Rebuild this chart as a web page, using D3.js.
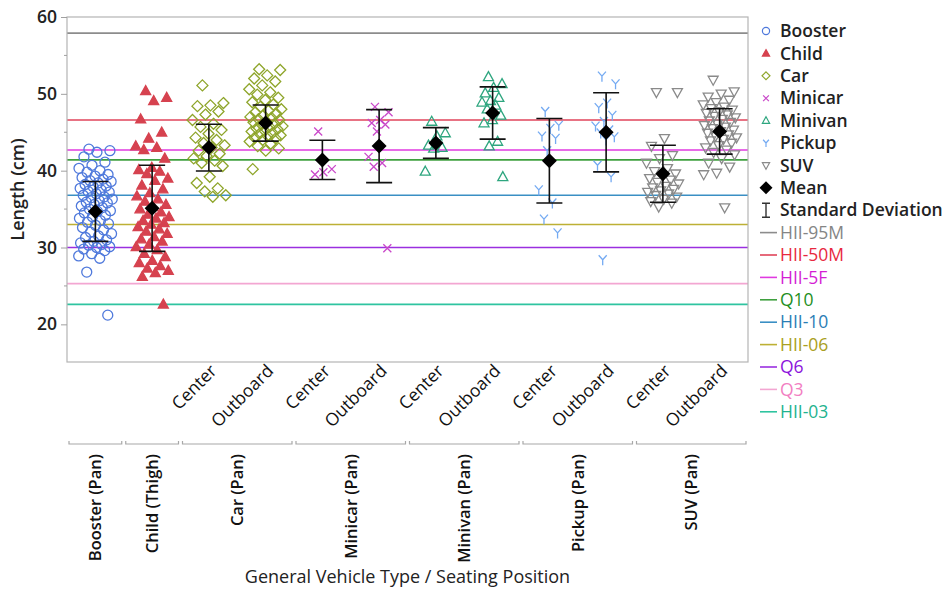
<!DOCTYPE html>
<html>
<head>
<meta charset="utf-8">
<script src="https://cdn.jsdelivr.net/npm/d3@7"></script>
<style>
  body { margin: 0; background: #fff; }
  text { font-family: 'Open Sans', 'Noto Sans', sans-serif; }
</style>
</head>
<body>
<div id="chart"></div>
<script>
// Columns on the x axis: vehicle group + seating position
const groups = ['Booster (Pan)', 'Child (Thigh)', 'Car (Pan)', 'Minicar (Pan)', 'Minivan (Pan)', 'Pickup (Pan)', 'SUV (Pan)'];
const positions = ['Center', 'Outboard'];

const boosterVals = [42.8, 42.6, 42.4, 41.8, 41.1, 40.7, 40.3, 40.0, 39.8, 39.5, 39.3, 39.1, 38.9, 38.7, 38.6, 38.4, 38.2, 38.0, 37.9, 37.7, 37.5, 37.3, 37.2, 37.0, 36.8, 36.6, 36.5, 36.3, 36.1, 35.9, 35.8, 35.6, 35.4, 35.2, 35.0, 34.8, 34.7, 34.5, 34.2, 34.0, 33.8, 33.5, 33.3, 33.1, 32.9, 32.6, 32.3, 32.0, 31.8, 31.5, 31.3, 31.0, 30.8, 30.6, 30.4, 30.3, 30.1, 30.0, 29.8, 29.6, 29.2, 28.9, 28.6, 26.8, 21.2];
const childVals = [50.4, 49.5, 49.1, 46.7, 45.0, 44.2, 43.2, 43.0, 42.7, 41.6, 40.4, 40.1, 39.9, 39.6, 39.0, 38.7, 38.1, 37.6, 37.1, 36.7, 36.3, 36.0, 35.6, 35.3, 35.0, 34.6, 34.3, 34.0, 33.8, 33.5, 33.2, 33.0, 32.7, 32.4, 32.1, 31.8, 31.4, 31.1, 30.8, 30.4, 30.1, 29.7, 29.2, 28.8, 28.3, 28.0, 27.6, 27.3, 27.0, 26.7, 26.2, 22.6];
const carCenterVals = [51.1, 48.8, 48.5, 48.4, 47.7, 47.3, 46.6, 46.1, 45.7, 45.3, 44.8, 44.3, 44.0, 43.6, 43.3, 43.0, 42.6, 42.2, 41.9, 41.6, 41.3, 41.0, 40.6, 39.2, 38.4, 37.7, 37.3, 36.8, 36.6];
const carOutboardVals = [53.2, 53.1, 52.4, 52.0, 51.6, 51.1, 50.6, 50.2, 49.9, 49.5, 49.2, 48.9, 48.6, 48.3, 48.0, 47.8, 47.6, 47.4, 47.2, 47.0, 46.9, 46.7, 46.6, 46.4, 46.3, 46.1, 46.0, 45.8, 45.7, 45.5, 45.4, 45.2, 45.1, 44.9, 44.8, 44.6, 44.5, 44.3, 44.2, 44.0, 43.8, 43.5, 43.2, 42.9, 42.6, 40.2];
const minicarCenterVals = [45.1, 40.2, 39.8, 39.5];
const minicarOutboardVals = [48.3, 47.6, 46.6, 46.2, 46.0, 45.1, 41.8, 41.0, 40.5, 29.9];
const minivanCenterVals = [46.4, 44.9, 44.5, 43.3, 43.0, 42.9, 39.9];
const minivanOutboardVals = [52.2, 51.3, 50.8, 50.1, 49.5, 49.1, 48.9, 48.5, 48.0, 47.2, 46.6, 46.2, 43.8, 43.2, 39.2];
const pickupCenterVals = [47.7, 45.9, 45.5, 44.5, 44.2, 42.6, 37.5, 35.8, 33.7, 31.9];
const pickupOutboardVals = [52.3, 51.3, 48.8, 48.2, 47.2, 46.4, 45.8, 45.3, 44.9, 44.4, 44.0, 40.7, 39.2, 28.4];
const suvCenterVals = [50.2, 50.2, 44.2, 43.2, 42.0, 41.6, 41.0, 40.3, 39.9, 39.6, 39.3, 39.0, 38.8, 38.5, 38.3, 38.0, 37.8, 37.6, 37.4, 37.2, 37.0, 36.8, 36.6, 36.3, 36.0, 35.8, 35.3];
const suvOutboardVals = [51.8, 50.3, 50.0, 49.6, 49.2, 48.9, 48.6, 48.3, 48.1, 47.9, 47.7, 47.5, 47.3, 47.1, 46.9, 46.7, 46.5, 46.3, 46.1, 45.9, 45.7, 45.5, 45.3, 45.1, 44.9, 44.7, 44.5, 44.3, 44.1, 43.9, 43.6, 43.3, 43.0, 42.7, 42.4, 42.1, 41.6, 41.0, 40.5, 39.7, 39.5, 35.2];

// Mean and standard deviation per column
const means = [34.7, 35.1, 43.0, 46.2, 41.4, 43.2, 43.6, 47.5, 41.3, 45.0, 39.6, 45.1];
const sds   = [3.9, 5.6, 3.05, 2.35, 2.55, 4.75, 2.0, 3.4, 5.5, 5.15, 3.7, 2.95];

// Reference lines
const refNames  = ['HII-95M', 'HII-50M', 'HII-5F', 'Q10', 'HII-10', 'HII-06', 'Q6', 'Q3', 'HII-03'];
const refValues = [57.9, 46.6, 42.7, 41.4, 36.8, 33.0, 30.0, 25.3, 22.6];
const refColors = ['#8c8c8c', '#e0455b', '#e03ae0', '#3fa03f', '#3a8fc4', '#bdb034', '#9a2fe0', '#f3a6d2', '#2fc4a0'];
const refText   = ['#858585', '#e8283f', '#d41ed4', '#1f8f1f', '#2a7db5', '#aaa022', '#8c14dc', '#f27fc2', '#1fb38f'];

const seriesNames = ['Booster', 'Child', 'Car', 'Minicar', 'Minivan', 'Pickup', 'SUV'];
const seriesColors = ['#4f79dc', '#d6424f', '#8ea52a', '#c947c9', '#2ea67f', '#74aaf2', '#8a8a8a'];

const yTicks = [20, 30, 40, 50, 60];
const yMinor = [25, 35, 45, 55];

// column table built from the arrays above
const cols = [
  { group: 0, pos: null, series: 0, vals: boosterVals },
  { group: 1, pos: null, series: 1, vals: childVals },
  { group: 2, pos: 0, series: 2, vals: carCenterVals },
  { group: 2, pos: 1, series: 2, vals: carOutboardVals },
  { group: 3, pos: 0, series: 3, vals: minicarCenterVals },
  { group: 3, pos: 1, series: 3, vals: minicarOutboardVals },
  { group: 4, pos: 0, series: 4, vals: minivanCenterVals },
  { group: 4, pos: 1, series: 4, vals: minivanOutboardVals },
  { group: 5, pos: 0, series: 5, vals: pickupCenterVals },
  { group: 5, pos: 1, series: 5, vals: pickupOutboardVals },
  { group: 6, pos: 0, series: 6, vals: suvCenterVals },
  { group: 6, pos: 1, series: 6, vals: suvOutboardVals },
];
cols.forEach((c, i) => { c.key = 'c' + i; c.mean = means[i]; c.sd = sds[i]; });

const W = 946, H = 590;
const M = { left: 67, right: 748, top: 17, bottom: 362 };
const FS = 17.5; // legend / label font size

const svg = d3.select('#chart').append('svg')
  .attr('width', W).attr('height', H)
  .style('display', 'block');

const x = d3.scaleBand().domain(cols.map(c => c.key)).range([M.left, M.right]).padding(0);
const y = d3.scaleLinear().domain([15.1, 60]).range([M.bottom, M.top]);

// marker shapes, s = half size
const shapes = [
  s => { const p = d3.path(); p.arc(0, 0, s, 0, 2 * Math.PI); return p.toString(); },
  s => `M0,${-s * 1.05}L${s},${s * 0.75}L${-s},${s * 0.75}Z`,
  s => `M0,${-s * 1.1}L${s * 1.1},0L0,${s * 1.1}L${-s * 1.1},0Z`,
  s => `M${-s * 0.8},${-s * 0.8}L${s * 0.8},${s * 0.8}M${s * 0.8},${-s * 0.8}L${-s * 0.8},${s * 0.8}`,
  s => `M0,${-s * 1.05}L${s},${s * 0.75}L${-s},${s * 0.75}Z`,
  s => `M0,0L${-s * 0.8},${-s * 0.9}M0,0L${s * 0.8},${-s * 0.9}M0,0L0,${s * 1.1}`,
  s => `M0,${s * 1.05}L${s},${-s * 0.75}L${-s},${-s * 0.75}Z`,
];
const filled = [false, true, false, false, false, false, false];

// reference lines
svg.append('g').selectAll('line').data(refValues).join('line')
  .attr('x1', M.left).attr('x2', M.right)
  .attr('y1', d => y(d)).attr('y2', d => y(d))
  .attr('stroke', (d, i) => refColors[i]).attr('stroke-width', 1.6);

// frame
svg.append('rect')
  .attr('x', M.left).attr('y', M.top)
  .attr('width', M.right - M.left).attr('height', M.bottom - M.top)
  .attr('fill', 'none').attr('stroke', '#b4b4b4').attr('stroke-width', 1.2);

// y axis
const yAxis = svg.append('g').attr('transform', `translate(${M.left},0)`)
  .call(d3.axisLeft(y).tickValues(yTicks).tickSize(6).tickPadding(4));
yAxis.select('.domain').remove();
yAxis.selectAll('line').attr('stroke', '#a0a0a0');
yAxis.selectAll('text').attr('font-size', 17.5).attr('font-weight', 600).attr('fill', '#222')
  .style('font-family', "'Open Sans', sans-serif");
svg.append('g').selectAll('line').data(yMinor).join('line')
  .attr('x1', M.left - 3).attr('x2', M.left)
  .attr('y1', d => y(d)).attr('y2', d => y(d))
  .attr('stroke', '#a0a0a0');

svg.append('text')
  .attr('transform', `translate(24,${(M.top + M.bottom) / 2}) rotate(-90)`)
  .attr('text-anchor', 'middle').attr('font-size', 18).attr('font-weight', 600)
  .attr('fill', '#222').text('Length (cm)');

// points, jittered sideways with a fixed golden-ratio sequence
const pts = svg.append('g');
cols.forEach(c => {
  const cx = x(c.key) + x.bandwidth() / 2;
  const spread = c.vals.length > 25 ? 34 : 22;
  pts.selectAll(null).data(c.vals).join('path')
    .attr('transform', (d, i) => {
      const off = (((i * 0.6180339887 + 0.31) % 1) - 0.5) * spread;
      return `translate(${cx + off},${y(d)})`;
    })
    .attr('d', shapes[c.series](5))
    .attr('fill', filled[c.series] ? seriesColors[c.series] : 'none')
    .attr('stroke', seriesColors[c.series])
    .attr('stroke-width', 1.3);
});

// standard deviation bars + mean diamonds
const stat = svg.append('g');
cols.forEach(c => {
  const cx = x(c.key) + x.bandwidth() / 2;
  const y1 = y(c.mean + c.sd), y0 = y(c.mean - c.sd);
  stat.append('path')
    .attr('d', `M${cx},${y1}L${cx},${y0}M${cx - 13},${y1}L${cx + 13},${y1}M${cx - 13},${y0}L${cx + 13},${y0}`)
    .attr('stroke', '#111').attr('stroke-width', 1.6).attr('fill', 'none');
  stat.append('path')
    .attr('transform', `translate(${cx},${y(c.mean)})`)
    .attr('d', 'M0,-7.5L7.5,0L0,7.5L-7.5,0Z')
    .attr('fill', '#000');
});

// x axis: seating positions
const xl = svg.append('g');
cols.filter(c => c.pos !== null).forEach(c => {
  const cx = x(c.key) + x.bandwidth() / 2;
  xl.append('text')
    .attr('transform', `translate(${cx + 9},${M.bottom + 10}) rotate(-45)`)
    .attr('text-anchor', 'end').attr('font-size', FS).attr('fill', '#111')
    .text(positions[c.pos]);
});

// group brackets and labels
groups.forEach((g, gi) => {
  const cs = cols.filter(c => c.group === gi);
  const x0 = x(cs[0].key) + 2, x1 = x(cs[cs.length - 1].key) + x.bandwidth() - 2;
  const by = 444;
  xl.append('path')
    .attr('d', `M${x0},${by - 3}L${x0},${by}L${x1},${by}L${x1},${by - 3}`)
    .attr('stroke', '#a8a8a8').attr('stroke-width', 1.2).attr('fill', 'none');
  xl.append('text')
    .attr('transform', `translate(${(x0 + x1) / 2 + 6},${by + 10}) rotate(-90)`)
    .attr('text-anchor', 'end').attr('font-size', 16.5).attr('font-weight', 600).attr('fill', '#111')
    .text(g);
});

svg.append('text')
  .attr('x', (M.left + M.right) / 2).attr('y', 583)
  .attr('text-anchor', 'middle').attr('font-size', 18).attr('font-weight', 500).attr('fill', '#222')
  .text('General Vehicle Type / Seating Position');

// legend
const lg = svg.append('g');
const rowH = 22.4, ly0 = 31, mx = 766, tx = 780;
seriesNames.forEach((n, i) => {
  const yy = ly0 + i * rowH;
  lg.append('path').attr('transform', `translate(${mx},${yy})`)
    .attr('d', shapes[i](3.6))
    .attr('fill', filled[i] ? seriesColors[i] : 'none')
    .attr('stroke', seriesColors[i]).attr('stroke-width', 1.2);
  lg.append('text').attr('x', tx).attr('y', yy).attr('dy', '0.35em')
    .attr('font-size', FS).attr('font-weight', 600).attr('fill', '#222').text(n);
});
{
  const yy = ly0 + 7 * rowH;
  lg.append('path').attr('transform', `translate(${mx},${yy})`)
    .attr('d', 'M0,-6.5L6.5,0L0,6.5L-6.5,0Z').attr('fill', '#000');
  lg.append('text').attr('x', tx).attr('y', yy).attr('dy', '0.35em')
    .attr('font-size', FS).attr('font-weight', 600).attr('fill', '#222').text('Mean');
  const y2 = ly0 + 8 * rowH;
  lg.append('path')
    .attr('d', `M${mx},${y2 - 7}L${mx},${y2 + 7}M${mx - 4},${y2 - 7}L${mx + 4},${y2 - 7}M${mx - 4},${y2 + 7}L${mx + 4},${y2 + 7}`)
    .attr('stroke', '#333').attr('stroke-width', 1.4);
  lg.append('text').attr('x', tx).attr('y', y2).attr('dy', '0.35em')
    .attr('font-size', FS).attr('font-weight', 600).attr('fill', '#222').text('Standard Deviation');
}
refNames.forEach((n, i) => {
  const yy = ly0 + (9 + i) * rowH;
  lg.append('line').attr('x1', 760).attr('x2', 777).attr('y1', yy).attr('y2', yy)
    .attr('stroke', refColors[i]).attr('stroke-width', 1.6);
  lg.append('text').attr('x', tx).attr('y', yy).attr('dy', '0.35em')
    .attr('font-size', FS).attr('fill', refText[i]).text(n);
});
</script>
</body>
</html>
